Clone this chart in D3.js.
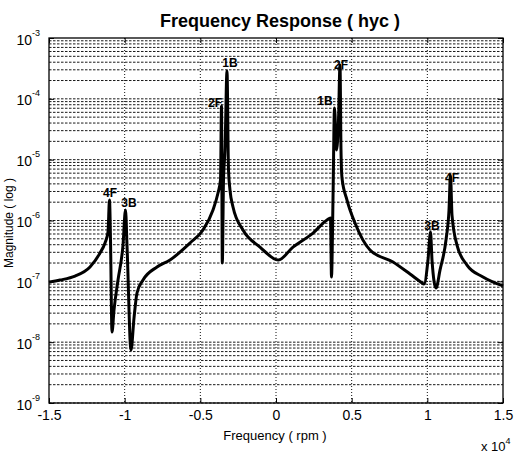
<!DOCTYPE html>
<html lang="en">
<head>
    <meta charset="UTF-8">
    <title>Frequency Response</title>
    <script src="https://cdnjs.cloudflare.com/ajax/libs/d3/7.8.5/d3.min.js"></script>
    <style>
        body { margin: 0; background: #fff; }
        text { font-family: "Liberation Sans", Arial, sans-serif; fill: #000; }
    </style>
</head>
<body>

<script>
    // frequency (rpm) and magnitude
    var freqRpm = [-15000, -14273, -13282, -12291, -11630, -11300, -11101, -11002, -10936, -10837,
        -10705, -10440, -10110, -9945, -9846, -9581, -9383, -9185, -8788, -7863,
        -7004, -5683, -4824, -4163, -3833, -3667, -3601, -3548, -3469, -3370,
        -3238, -3139, -3040, -2841, -2180, -1057, 150, 1123, 2445, 3370,
        3601, 3667, 3766, 3866, 3998, 4130, 4229, 4295, 4361, 4692,
        5220, 6211, 7731, 8855, 9582, 9780, 10044, 10210, 10309, 10573,
        10837, 11233, 11432, 11531, 11630, 11960, 12621, 13678, 15000];

    var magnitude = [9.7e-8, 1.05e-7, 1.22e-7, 1.72e-7, 2.92e-7, 4.27e-7, 6.47e-7, 2.17e-6, 4.78e-7, 1.47e-8,
        3.38e-8, 1.05e-7, 3.95e-7, 1.49e-6, 3.95e-7, 7.4e-9, 2.49e-8, 6.43e-8, 1.05e-7, 1.72e-7,
        2.24e-7, 4.27e-7, 6.98e-7, 1.49e-6, 2.83e-6, 4.63e-6, 7.62e-5, 2.0e-7, 4.63e-6, 1.44e-5,
        2.87e-4, 6.76e-6, 3.17e-6, 1.67e-6, 6.98e-7, 3.66e-7, 2.24e-7, 3.66e-7, 6.22e-7, 1.02e-6,
        1.10e-6, 1.18e-7, 2.17e-6, 7.06e-5, 1.44e-5, 4.49e-5, 3.6e-4, 1.44e-5, 5.0e-6, 2.17e-6,
        9.1e-7, 3.27e-7, 2.08e-7, 1.32e-7, 9.7e-8, 9.0e-8, 2.24e-7, 6.47e-7, 2.24e-7, 7.76e-8,
        1.53e-7, 4.78e-7, 1.49e-6, 5.6e-6, 1.23e-6, 3.95e-7, 1.85e-7, 1.18e-7, 8.4e-8];

    var xTicks = [-15000, -10000, -5000, 0, 5000, 10000, 15000];
    var xTickLabels = ["-1.5", "-1", "-0.5", "0", "0.5", "1", "1.5"];
    var yDecades = [-9, -8, -7, -6, -5, -4, -3];

    // mode labels and the peak each one sits on
    var peakNames = ["4F", "3B", "2F", "1B", "1B", "2F", "3B", "4F"];
    var peakRpm = [-11002, -9945, -3601, -3238, 3866, 4229, 10210, 11531];
    // pixel shift of each label from its peak
    var labelShift = [[0.5, -7], [3.5, -7], [-6.5, -3], [3, -8], [-9.5, -7], [1, 0], [1.5, -6], [1.5, 3]];

    var width = 521, height = 453;
    var plotL = 49, plotR = 503, plotT = 38, plotB = 403;

    var svg = d3.select("body").append("svg")
        .attr("width", width)
        .attr("height", height);

    svg.append("rect").attr("width", width).attr("height", height).attr("fill", "#fff");

    var x = d3.scaleLinear().domain([-15000, 15000]).range([plotL, plotR]);
    var y = d3.scaleLog().domain([1e-9, 1e-3]).range([plotB, plotT]);

    // log grid: every 1..9 x 10^k
    var gridVals = [];
    for (var e = -9; e < -3; e++) {
        for (var k = 1; k <= 9; k++) gridVals.push(k * Math.pow(10, e));
    }
    svg.append("g").selectAll("line").data(gridVals)
        .enter().append("line")
        .attr("x1", plotL).attr("x2", plotR)
        .attr("y1", function (d) { return y(d); })
        .attr("y2", function (d) { return y(d); })
        .attr("stroke", "#1a1a1a")
        .attr("stroke-width", 1)
        .attr("stroke-dasharray", "2.5,1.5");

    svg.append("g").selectAll("line").data(xTicks.slice(1, -1))
        .enter().append("line")
        .attr("x1", function (d) { return x(d); })
        .attr("x2", function (d) { return x(d); })
        .attr("y1", plotT).attr("y2", plotB)
        .attr("stroke", "#111")
        .attr("stroke-width", 1)
        .attr("stroke-dasharray", "1,2");

    // axes, ticks pointing inward like matlab
    var xAxis = d3.axisBottom(x).tickValues(xTicks).tickSize(-5).tickPadding(7)
        .tickFormat(function (d, i) { return xTickLabels[i]; });
    var gx = svg.append("g").attr("transform", "translate(0," + plotB + ")").call(xAxis);
    gx.select(".domain").remove();
    gx.selectAll("text").attr("font-size", 14).attr("font-family", "Liberation Sans, Arial, sans-serif");

    var gxTop = svg.append("g").attr("transform", "translate(0," + plotT + ")")
        .call(d3.axisTop(x).tickValues(xTicks).tickSize(-5).tickFormat(""));
    gxTop.select(".domain").remove();

    var yAxis = d3.axisLeft(y).tickValues(yDecades.map(function (p) { return Math.pow(10, p); }))
        .tickSize(-5).tickPadding(9).tickFormat("");
    var gy = svg.append("g").attr("transform", "translate(" + plotL + ",0)").call(yAxis);
    gy.select(".domain").remove();
    gy.selectAll(".tick").append("text")
        .attr("x", -9).attr("y", 2)
        .attr("text-anchor", "end")
        .attr("font-size", 14)
        .attr("dominant-baseline", "middle")
        .each(function (d) {
            var t = d3.select(this);
            t.append("tspan").text("10");
            t.append("tspan").attr("dy", -7).attr("font-size", 9).text(Math.round(Math.log10(d)));
        });

    var gyRight = svg.append("g").attr("transform", "translate(" + plotR + ",0)")
        .call(d3.axisRight(y).tickValues(yDecades.map(function (p) { return Math.pow(10, p); }))
            .tickSize(-5).tickFormat(""));
    gyRight.select(".domain").remove();

    svg.append("rect")
        .attr("x", plotL).attr("y", plotT)
        .attr("width", plotR - plotL).attr("height", plotB - plotT)
        .attr("fill", "none").attr("stroke", "#000").attr("stroke-width", 1.3);

    // response curve
    var pts = freqRpm.map(function (f, i) { return [f, magnitude[i]]; });
    var line = d3.line()
        .curve(d3.curveMonotoneX)
        .x(function (d) { return x(d[0]); })
        .y(function (d) { return y(d[1]); });

    svg.append("path")
        .datum(pts)
        .attr("d", line)
        .attr("fill", "none")
        .attr("stroke", "#000")
        .attr("stroke-width", 3)
        .attr("stroke-linejoin", "round");

    // mode labels
    svg.append("g").selectAll("text").data(peakNames)
        .enter().append("text")
        .attr("x", function (d, i) { return x(peakRpm[i]) + labelShift[i][0]; })
        .attr("y", function (d, i) { return y(magnitude[freqRpm.indexOf(peakRpm[i])]) + labelShift[i][1]; })
        .attr("text-anchor", "middle")
        .attr("dominant-baseline", "central")
        .attr("font-size", 12)
        .attr("font-weight", "bold")
        .text(function (d) { return d; });

    // titles
    svg.append("text")
        .attr("x", 280).attr("y", 27)
        .attr("text-anchor", "middle")
        .attr("font-size", 18)
        .attr("font-weight", "bold")
        .text("Frequency Response ( hyc )");

    svg.append("text")
        .attr("transform", "translate(13,223) rotate(-90)")
        .attr("text-anchor", "middle")
        .attr("font-size", 12)
        .text("Magnitude ( log )");

    svg.append("text")
        .attr("x", 275).attr("y", 440)
        .attr("text-anchor", "middle")
        .attr("font-size", 13)
        .text("Frequency ( rpm )");

    var mult = svg.append("text")
        .attr("x", 481).attr("y", 451)
        .attr("font-size", 13);
    mult.append("tspan").text("x 10");
    mult.append("tspan").attr("dy", -7).attr("font-size", 9).text("4");
</script>

</body>
</html>
